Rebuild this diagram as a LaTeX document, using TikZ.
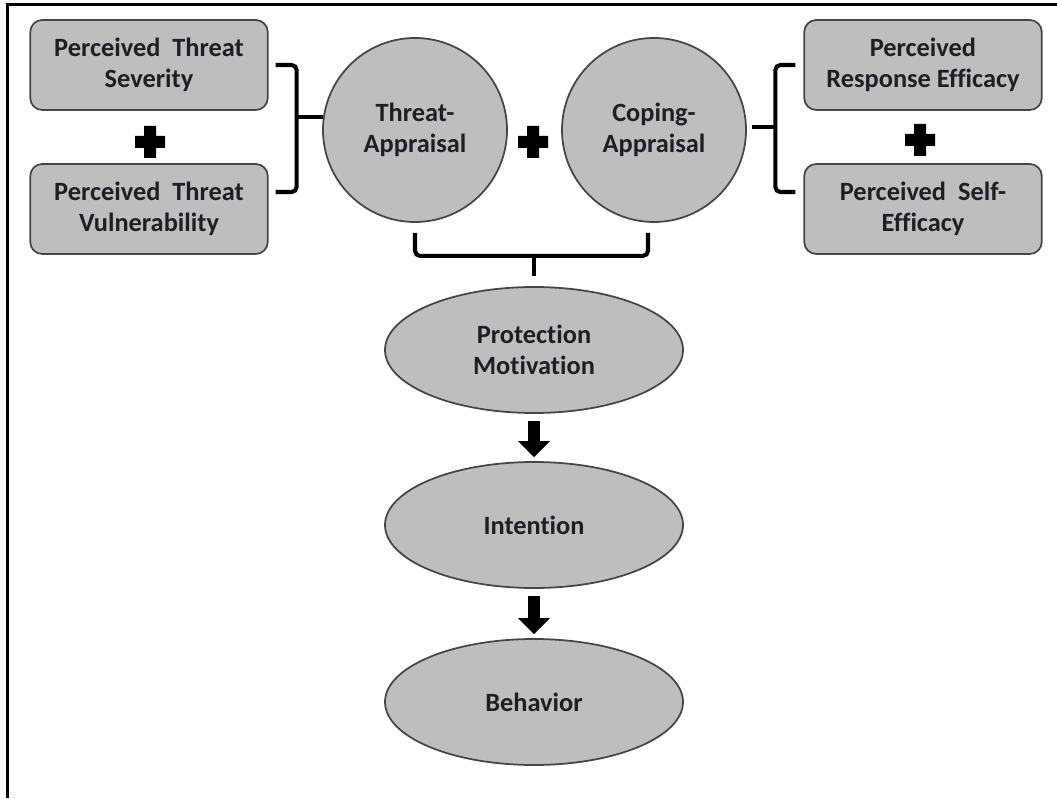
\documentclass[tikz,border=0pt]{standalone}
\usepackage{fontspec}
\setmainfont{Carlito}[Ligatures=NoCommon]
\usetikzlibrary{arrows.meta, shapes}
\definecolor{boxgray}{RGB}{190,190,190}
\definecolor{edgegray}{RGB}{70,70,70}
\definecolor{textdark}{RGB}{30,30,38}

\begin{document}
\begin{tikzpicture}[
    every node/.style={font=\fontsize{15}{17.5}\selectfont\bfseries, text=textdark},
    factor/.style={rectangle, rounded corners=0.24cm, draw=edgegray, fill=boxgray, line width=1pt, minimum width=4.75cm, minimum height=1.8cm, align=center},
    appraisal/.style={circle, draw=edgegray, fill=boxgray, line width=1pt, minimum size=3.68cm, align=center},
    stage/.style={ellipse, draw=edgegray, fill=boxgray, line width=1pt, minimum width=5.96cm, minimum height=2.52cm, align=center},
    bracket/.style={line width=2.3pt, rounded corners=0.1cm},
    blockarrow/.style={line width=0.24cm, -{Triangle[width=0.62cm, length=0.32cm]}, shorten <=0.14cm, shorten >=0.08cm}
]
            \useasboundingbox (0,0) rectangle (21.14,15.96);

            % Frame
            \draw[line width=1.7pt] (0.15,0) -- (0.15,15.87) -- (21.14,15.87);

            % Nodes
            \node [factor] (sev) at (2.98,14.66) {Perceived\ \ Threat\\Severity};
            \node [factor] (vul) at (2.98,11.78) {Perceived\ \ Threat\\Vulnerability};
            \node [factor] (resp) at (18.46,14.66) {Perceived\\Response Efficacy};
            \node [factor] (self) at (18.46,11.78) {Perceived\ \ Self-\\Efficacy};
            \node [appraisal] (threat) at (8.3,13.36) {Threat-\\Appraisal};
            \node [appraisal] (coping) at (13.08,13.36) {Coping-\\Appraisal};
            \node [stage] (pm) at (10.68,8.96) {Protection\\Motivation};
            \node [stage] (intent) at (10.68,5.46) {Intention};
            \node [stage] (behav) at (10.68,1.92) {Behavior};

            % Plus signs
            \foreach \x/\y in {3.0/13.12, 10.66/13.12, 18.4/13.16}
                \fill (\x-0.3,\y-0.12) rectangle (\x+0.3,\y+0.12)
                      (\x-0.12,\y-0.32) rectangle (\x+0.12,\y+0.32);

            % Brackets
            \draw[bracket] ([xshift=0.14cm]sev.east) -- ++(0.42,0) |- ([xshift=0.14cm, yshift=0.34cm]vul.east);
            \draw[bracket] (threat.172) -- ++(-0.52,0);
            \draw[bracket] ([xshift=-0.16cm]resp.west) -- ++(-0.4,0) |- ([xshift=-0.16cm, yshift=0.34cm]self.west);
            \draw[bracket] ([xshift=-0.16cm]resp.west) ++(-0.4,-1.24) -- ++(-0.46,0);
            \draw[bracket] ([yshift=-0.2cm]threat.south) -- ++(0,-0.46) -| ([xshift=-0.12cm, yshift=-0.2cm]coping.south);
            \draw[bracket] ([yshift=0.2cm]pm.north) -- ++(0,0.44);

            % Arrows
            \draw[blockarrow] (pm) -- (intent);
            \draw[blockarrow] (intent) -- (behav);
        \end{tikzpicture}
\end{document}
